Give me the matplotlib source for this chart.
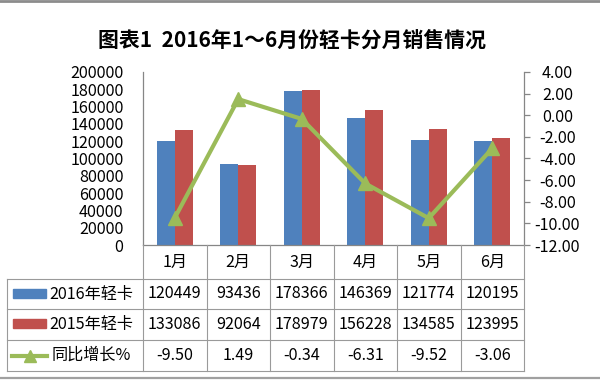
import matplotlib
matplotlib.use('Agg')
import matplotlib.pyplot as plt
import numpy as np
from matplotlib.lines import Line2D
from matplotlib.patches import Rectangle

plt.rcParams['font.family'] = ['Noto Sans CJK SC', 'DejaVu Sans']
plt.rcParams['axes.unicode_minus'] = False

# ---- data ----
months = ['1月', '2月', '3月', '4月', '5月', '6月']
sales_2016 = [120449, 93436, 178366, 146369, 121774, 120195]
sales_2015 = [133086, 92064, 178979, 156228, 134585, 123995]
growth = [-9.50, 1.49, -0.34, -6.31, -9.52, -3.06]
series_names = ['2016年轻卡', '2015年轻卡', '同比增长%']
title = '图表1  2016年1～6月份轻卡分月销售情况'
left_ticks = list(range(0, 200001, 20000))
right_ticks = list(range(-12, 5, 2))

# ---- style ----
C_BLUE = '#4F81BD'
C_RED = '#C0504D'
C_GREEN = '#9BBB59'
C_AXIS = '#868686'
C_GRID = '#9A9A9A'
FS = 11.6

W, H = 600, 380
fig = plt.figure(figsize=(W / 100, H / 100), dpi=100)
fig.patch.set_facecolor('white')


def fx(px):
    return px / W


def fy(py):
    return 1 - py / H


ax_l, ax_r, ax_t, ax_b = 143, 524, 72, 245
ax = fig.add_axes([fx(ax_l), fy(ax_b), (ax_r - ax_l) / W, (ax_b - ax_t) / H])
x = np.arange(len(months))
bw = 0.283
ax.bar(x - bw / 2, sales_2016, bw, color=C_BLUE, zorder=2)
ax.bar(x + bw / 2, sales_2015, bw, color=C_RED, zorder=2)
ax.set_xlim(-0.5, len(months) - 0.5)
ax.set_ylim(0, 200000)
ax.set_yticks(left_ticks, labels=[str(v) for v in left_ticks])
ax.tick_params(axis='y', length=0, pad=14, labelsize=FS, colors='black')
ax.set_xticks([])
for s in ['top', 'right']:
    ax.spines[s].set_visible(False)
for s in ['left', 'bottom']:
    ax.spines[s].set_color(C_AXIS)
    ax.spines[s].set_linewidth(0.9)

ax2 = ax.twinx()
ax2.plot(x, growth, color=C_GREEN, lw=3, marker='^', ms=10,
         mfc=C_GREEN, mec=C_GREEN, zorder=3)
ax2.set_ylim(-12, 4)
ax2.set_yticks(right_ticks, labels=[f'{v:.2f}' for v in right_ticks], ha='center')
ax2.tick_params(axis='y', length=4, width=0.9, color=C_AXIS, pad=20,
                labelsize=FS, labelcolor='black')
for s in ['top', 'left', 'bottom']:
    ax2.spines[s].set_visible(False)
ax2.spines['right'].set_color(C_AXIS)
ax2.spines['right'].set_linewidth(0.9)

# ---- title ----
fig.text(fx(292), fy(40), title, ha='center', va='center',
         fontsize=15, fontweight='bold', color='black')

# ---- data table ----
tbl_left = 7
col_w = (ax_r - ax_l) / len(months)
col_edges = [ax_l + i * col_w for i in range(len(months) + 1)]
row_edges = [245, 279, 309, 340, 371]


def hline(y, x0, x1, color=C_GRID, lw=0.8):
    fig.add_artist(Line2D([fx(x0), fx(x1)], [fy(y), fy(y)],
                          transform=fig.transFigure, color=color, lw=lw))


def vline(xp, y0, y1, color=C_GRID, lw=0.8):
    fig.add_artist(Line2D([fx(xp), fx(xp)], [fy(y0), fy(y1)],
                          transform=fig.transFigure, color=color, lw=lw))


for yv in row_edges[1:]:
    hline(yv, tbl_left, ax_r)
vline(tbl_left, row_edges[1], row_edges[-1])
for xe in col_edges:
    vline(xe, row_edges[0], row_edges[-1])

centers_x = [(col_edges[i] + col_edges[i + 1]) / 2 for i in range(len(months))]
row_c = [(row_edges[i] + row_edges[i + 1]) / 2 for i in range(len(row_edges) - 1)]

for cx, m in zip(centers_x, months):
    fig.text(fx(cx), fy(row_c[0]), m, ha='center', va='center', fontsize=FS)
rows = [[str(v) for v in sales_2016],
        [str(v) for v in sales_2015],
        [f'{v:.2f}' for v in growth]]
for r, vals in enumerate(rows):
    for cx, s in zip(centers_x, vals):
        fig.text(fx(cx), fy(row_c[r + 1]), s, ha='center', va='center', fontsize=FS)

# legend keys in table
for r, col in [(1, C_BLUE), (2, C_RED)]:
    yc = row_c[r]
    fig.add_artist(Rectangle((fx(12.5), fy(yc + 3.5)), 33 / W, 9 / H,
                             transform=fig.transFigure, color=col))
yc = row_c[3]
fig.add_artist(Line2D([fx(12), fx(47)], [fy(yc), fy(yc)], transform=fig.transFigure,
                      color=C_GREEN, lw=3))
fig.add_artist(Line2D([fx(29.5)], [fy(yc)], transform=fig.transFigure,
                      color=C_GREEN, marker='^', ms=8, lw=0))
fig.text(fx(49), fy(row_c[1]), series_names[0], ha='left', va='center', fontsize=FS)
fig.text(fx(49), fy(row_c[2]), series_names[1], ha='left', va='center', fontsize=FS)
fig.text(fx(52), fy(row_c[3]), series_names[2], ha='left', va='center', fontsize=FS)

# frame lines top and bottom
hline(1, 0, W, color='#8C8C8C', lw=2.0)
hline(378, 0, W, color='#A0A0A0', lw=1.6)

fig.savefig('out.png', dpi=100)
